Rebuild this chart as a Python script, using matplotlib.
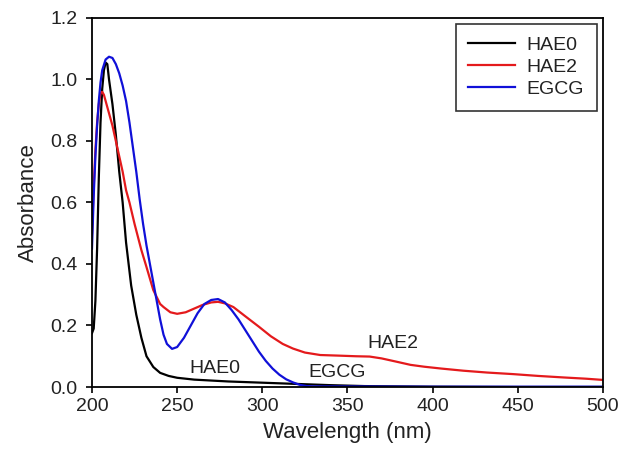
import numpy as np
import matplotlib.pyplot as plt

plt.rcParams['font.family'] = ['Liberation Sans', 'DejaVu Sans']

# HAE0 (black)
hae0_x = [200, 201, 202, 203, 204, 205, 206, 207, 208, 209, 210, 212, 214, 216, 218, 220,
          223, 226, 229, 232, 236, 240, 245, 250, 260, 280, 300, 320, 340, 360, 400, 450, 500]
hae0_y = [0.175, 0.19, 0.28, 0.45, 0.68, 0.86, 0.97, 1.03, 1.055, 1.05, 1.0, 0.92, 0.82, 0.7,
          0.6, 0.47, 0.33, 0.235, 0.16, 0.1, 0.065, 0.046, 0.036, 0.03, 0.024, 0.018, 0.014,
          0.01, 0.006, 0.003, 0.001, 0.0, 0.0]

# HAE2 (red)
hae2_x = [200, 201, 202, 203, 204, 205, 206, 207, 208, 210, 212, 214, 216, 218, 220, 222,
          225, 229, 232, 236, 240, 242, 246, 250, 255, 260, 265, 270, 274, 278, 283, 290,
          298, 305, 312, 318, 325, 334, 345, 355, 363, 370, 379, 387, 395, 405, 418, 432,
          447, 462, 477, 490, 500]
hae2_y = [0.5, 0.65, 0.77, 0.86, 0.92, 0.955, 0.96, 0.95, 0.93, 0.89, 0.85, 0.8, 0.75, 0.7,
          0.64, 0.6, 0.53, 0.445, 0.39, 0.315, 0.27, 0.26, 0.243, 0.238, 0.243, 0.255, 0.267,
          0.275, 0.277, 0.272, 0.26, 0.23, 0.196, 0.165, 0.14, 0.125, 0.112, 0.104, 0.102,
          0.1, 0.099, 0.093, 0.082, 0.072, 0.066, 0.06, 0.053, 0.047, 0.042, 0.036, 0.031,
          0.027, 0.023]

# EGCG (blue)
egcg_x = [200, 201, 202, 203, 204, 205, 206, 208, 210, 212, 214, 216, 218, 220, 222, 224,
          226, 228, 230, 232, 235, 238, 240, 242, 244, 247, 250, 254, 258, 262, 266, 270,
          274, 278, 282, 286, 290, 294, 298, 302, 306, 310, 314, 318, 322, 326, 330, 400, 500]
egcg_y = [0.45, 0.62, 0.75, 0.85, 0.93, 0.99, 1.03, 1.065, 1.074, 1.07, 1.05, 1.02, 0.98,
          0.93, 0.86, 0.78, 0.7, 0.61, 0.53, 0.46, 0.37, 0.28, 0.22, 0.17, 0.14, 0.124, 0.13,
          0.16, 0.2, 0.24, 0.27, 0.283, 0.286, 0.275, 0.25, 0.22, 0.185, 0.15, 0.115, 0.085,
          0.06, 0.04, 0.025, 0.015, 0.007, 0.003, 0.002, 0.001, 0.001]

# curve labels inside the plot
ann_text = ['HAE0', 'EGCG', 'HAE2']
ann_x = [272.2, 344.1, 376.4]
ann_y = [0.044, 0.0335, 0.126]

fig = plt.figure(figsize=(6.34, 4.67), dpi=100)
ax = fig.add_axes([0.1451, 0.1713, 0.806, 0.7902])

ax.plot(hae0_x, hae0_y, color='black', lw=1.6, label='HAE0')
ax.plot(hae2_x, hae2_y, color='#e41a1c', lw=1.6, label='HAE2')
ax.plot(egcg_x, egcg_y, color='#1010d8', lw=1.6, label='EGCG')

for t, x, y in zip(ann_text, ann_x, ann_y):
    ax.text(x, y, t, ha='center', va='baseline', fontsize=14, color='#222222')

ax.set_xlim(200, 500)
ax.set_ylim(0, 1.2)
ax.set_xticks(np.arange(200, 501, 50))
ax.set_yticks(np.arange(0, 1.21, 0.2))
ax.set_yticklabels([f'{v:.1f}' for v in np.arange(0, 1.21, 0.2)])
ax.tick_params(axis='x', direction='out', length=4, width=1.2, labelsize=14, pad=4,
               top=False, labelcolor='#222222')
ax.tick_params(axis='y', direction='out', length=4.5, width=1.2, labelsize=14, pad=6,
               right=False, labelcolor='#222222')
for s in ax.spines.values():
    s.set_linewidth(1.3)

ax.set_xlabel('Wavelength (nm)', fontsize=16, labelpad=5, color='#222222')
ax.set_ylabel('Absorbance', fontsize=16, labelpad=8, color='#222222')

leg = ax.legend(loc='upper right', bbox_to_anchor=(0.988, 0.984), borderaxespad=0,
                fontsize=14, frameon=True, fancybox=False, edgecolor='black',
                handlelength=2.4, handletextpad=0.6, labelspacing=0.22, borderpad=0.65)
leg.get_frame().set_linewidth(1.2)
for t in leg.get_texts():
    t.set_color('#222222')

fig.savefig('out.png', dpi=100)
